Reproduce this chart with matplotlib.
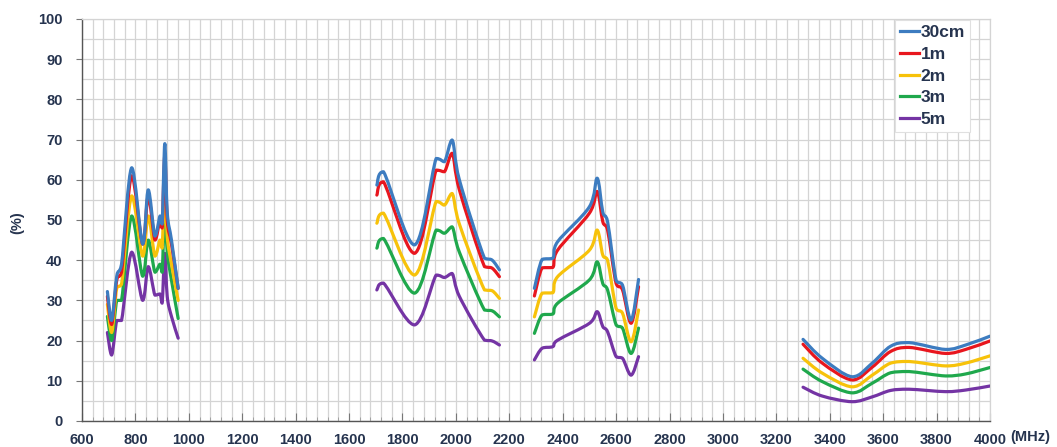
import numpy as np
import matplotlib.pyplot as plt
from matplotlib.path import Path
from matplotlib.patches import PathPatch
from matplotlib.lines import Line2D
from matplotlib.ticker import MultipleLocator

plt.rcParams['font.family'] = ['Liberation Sans', 'DejaVu Sans']

# frequency points (MHz) for each band
f_low = [695, 711, 730, 748, 786, 827, 848, 873, 892, 900, 910, 919, 935, 960]
f_mid = [1704, 1729, 1845, 1926, 1957, 1986, 2013, 2107, 2136, 2163]
f_high = [2294, 2323, 2363, 2381, 2500, 2529, 2550, 2568, 2600, 2624, 2656, 2684]
f_top = [3300, 3372, 3484, 3559, 3628, 3697, 3834, 3909, 4000]

# efficiency (%) per distance, per band
d30cm_low = [32.2, 25, 36, 39, 63, 44, 57.5, 46, 51, 49, 69, 52, 45, 33]
d1m_low = [31, 24, 35, 37, 61, 44, 56, 45, 50, 48, 66, 50, 44, 33]
d2m_low = [29, 22, 33, 34, 56, 41, 51, 41, 45, 43, 60, 46, 39, 30]
d3m_low = [26, 20, 30, 30, 51, 36, 45, 37, 39, 37, 53, 42, 35, 25.5]
d5m_low = [22, 16.4, 25, 25, 42, 30, 38.4, 31.3, 31.6, 29.3, 41.7, 31, 26, 20.6]

d30cm_mid = [58.7, 62, 43.8, 65.3, 64.5, 69.9, 60, 40.5, 40, 37.6]
d1m_mid = [56.2, 59.5, 41.7, 62.4, 62.0, 66.6, 57.5, 38.4, 38, 35.9]
d2m_mid = [49.2, 51.7, 36.3, 54.6, 53.7, 56.6, 49, 32.6, 32.4, 30.5]
d3m_mid = [43, 45.4, 31.8, 47.5, 46.7, 48.3, 42, 27.6, 27.4, 25.9]
d5m_mid = [32.6, 34.3, 23.9, 36.3, 35.7, 36.7, 31, 20.1, 19.9, 18.9]

d30cm_high = [33, 40.2, 40.5, 44.6, 53.3, 60.4, 52, 49.6, 35, 33.8, 25.1, 35.2]
d1m_high = [31.1, 38.1, 38.2, 42.5, 51.7, 57.1, 49.6, 47.5, 34.2, 32.6, 24.3, 33.4]
d2m_high = [25.9, 31.8, 31.9, 35.9, 42.5, 47.5, 41.3, 40, 28, 26.8, 19.7, 27.6]
d3m_high = [21.8, 26.4, 26.6, 29.3, 35.1, 39.6, 34.2, 32.6, 23.9, 23.1, 16.8, 23.1]
d5m_high = [15.2, 18.1, 18.5, 20.1, 24.3, 27.2, 23.5, 22.2, 16, 15.6, 11.4, 16]

d30cm_top = [20.3, 15.6, 11.0, 14.4, 18.6, 19.5, 17.8, 18.9, 21.1]
d1m_top = [19.1, 14.4, 10.2, 13.4, 17.3, 18.3, 16.8, 17.8, 19.9]
d2m_top = [15.6, 11.9, 8.5, 11.4, 14.4, 14.8, 13.7, 14.4, 16.2]
d3m_top = [12.9, 9.8, 7.0, 9.4, 12.0, 12.3, 11.2, 11.7, 13.3]
d5m_top = [8.4, 6.2, 4.8, 6.0, 7.6, 7.9, 7.3, 7.7, 8.7]

labels = ['30cm', '1m', '2m', '3m', '5m']
colors = ['#3d7cc0', '#e8161e', '#f7c20a', '#1fa84c', '#7434a4']
series = [
    [d30cm_low, d30cm_mid, d30cm_high, d30cm_top],
    [d1m_low, d1m_mid, d1m_high, d1m_top],
    [d2m_low, d2m_mid, d2m_high, d2m_top],
    [d3m_low, d3m_mid, d3m_high, d3m_top],
    [d5m_low, d5m_mid, d5m_high, d5m_top],
]
bands = [f_low, f_mid, f_high, f_top]

text_col = '#26344f'


def smooth_path(x, y):
    # smoothed line: cubic bezier through the points, control points
    # clamped so the curve does not overshoot between two points
    pts = np.column_stack([x, y]).astype(float)
    n = len(pts)
    verts = [pts[0]]
    codes = [Path.MOVETO]
    for i in range(n - 1):
        p0 = pts[i - 1] if i > 0 else pts[i]
        p1, p2 = pts[i], pts[i + 1]
        p3 = pts[i + 2] if i + 2 < n else pts[i + 1]
        c1 = p1 + (p2 - p0) / 6.0
        c2 = p2 - (p3 - p1) / 6.0
        lo, hi = min(p1[1], p2[1]), max(p1[1], p2[1])
        c1[1] = np.clip(c1[1], lo, hi)
        c2[1] = np.clip(c2[1], lo, hi)
        verts += [c1, c2, p2]
        codes += [Path.CURVE4] * 3
    return Path(verts, codes)


fig = plt.figure(figsize=(10.57, 4.47), dpi=100)
ax = fig.add_axes([0.0776, 0.0582, 0.8590, 0.8993])

for k in range(len(labels)):
    for fx, vals in zip(bands, series[k]):
        patch = PathPatch(smooth_path(fx, vals), facecolor='none',
                          edgecolor=colors[k], lw=2.3, capstyle='round',
                          joinstyle='round', zorder=3 + (len(labels) - k) * 0.1)
        ax.add_patch(patch)

ax.set_xlim(600, 4000)
ax.set_ylim(0, 100)
ax.xaxis.set_major_locator(MultipleLocator(200))
ax.xaxis.set_minor_locator(MultipleLocator(40))
ax.yaxis.set_major_locator(MultipleLocator(10))
ax.yaxis.set_minor_locator(MultipleLocator(5))
ax.grid(True, which='both', color='#d4d4d4', lw=0.9)
ax.set_axisbelow(True)

ax.tick_params(axis='x', which='major', direction='in', length=6, width=0.8,
               color='#777777', pad=9)
ax.tick_params(axis='x', which='minor', direction='in', length=3, width=0.6,
               color='#999999')
ax.tick_params(axis='y', which='major', direction='out', length=4, width=0.8,
               color='#777777', pad=10)
ax.tick_params(axis='y', which='minor', length=0)
for lab in ax.get_xticklabels() + ax.get_yticklabels():
    lab.set_fontweight('bold')
    lab.set_fontsize(10.5)
    lab.set_color(text_col)

for side in ['left', 'bottom']:
    ax.spines[side].set_color('#555555')
    ax.spines[side].set_linewidth(1.0)
for side in ['top', 'right']:
    ax.spines[side].set_color('#d4d4d4')
    ax.spines[side].set_linewidth(0.9)

fig.text(17 / 1057, 1 - 223 / 447, '(%)', rotation=90, fontsize=10.5,
         fontweight='bold', color=text_col, ha='center', va='center')
fig.text(0.975, 0.022, '(MHz)', fontsize=10.5, fontweight='bold', color=text_col,
         ha='center', va='center')

handles = [Line2D([], [], color=c, lw=2.3) for c in colors]
leg = ax.legend(handles, labels, loc='upper left', bbox_to_anchor=(0.895, 0.998),
                frameon=True, fancybox=False, edgecolor='#e0e0e0',
                framealpha=1.0, handlelength=1.1, handletextpad=0.1,
                labelspacing=0.38, borderpad=0.3, borderaxespad=0.0,
                prop={'weight': 'bold', 'size': 12.5}, labelcolor=text_col)
leg.get_frame().set_linewidth(0.8)

fig.savefig('out.png', dpi=100)
